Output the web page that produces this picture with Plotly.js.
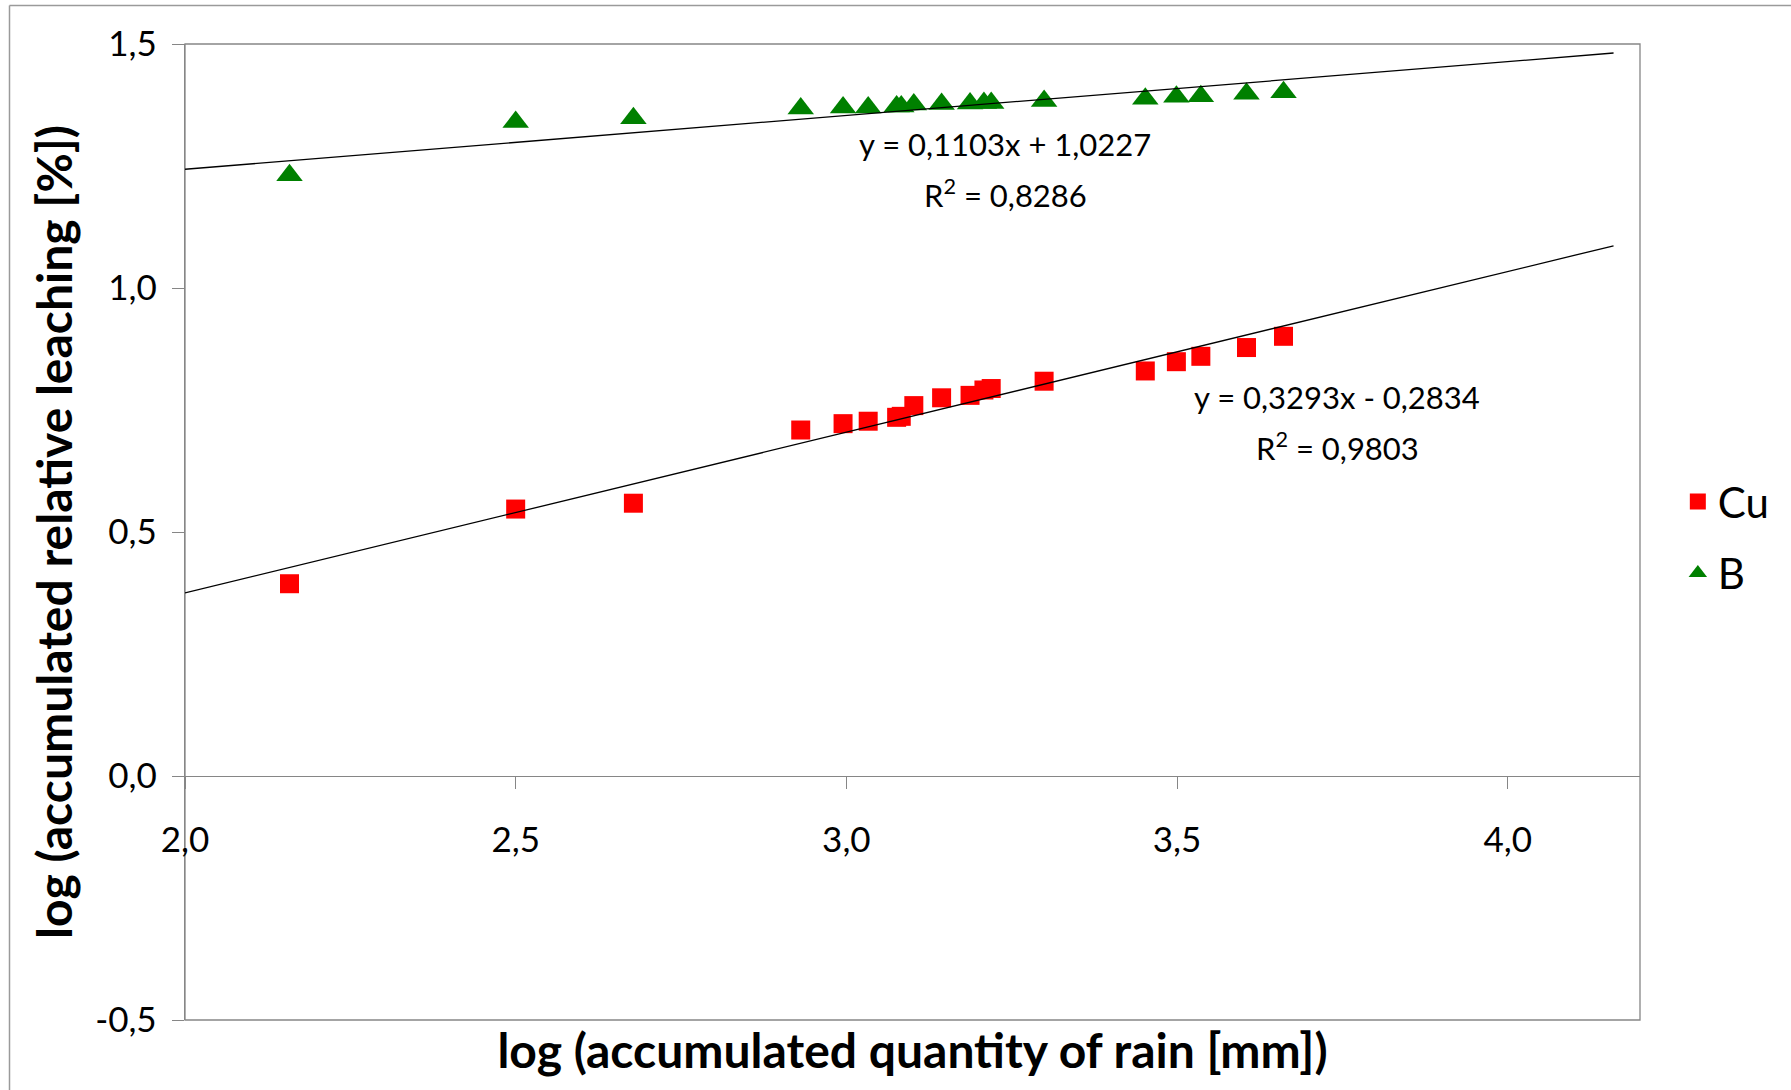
<!DOCTYPE html>
<html>
<head>
<meta charset="utf-8">
<script src="https://cdn.plot.ly/plotly-3.0.1.min.js"></script>
<style>
  html, body { margin: 0; padding: 0; background: #fff; }
  #chart { width: 1791px; height: 1090px; }
</style>
</head>
<body>
<div id="chart"></div>
<script>
// ---- data ----
const rainLog = [2.158, 2.500, 2.678, 2.931, 2.995, 3.033, 3.076, 3.083, 3.102, 3.144,
                 3.187, 3.208, 3.219, 3.299, 3.452, 3.499, 3.536, 3.605, 3.661];
const cuLeach = [0.394, 0.547, 0.559, 0.709, 0.722, 0.727, 0.735, 0.737, 0.759, 0.775,
                 0.780, 0.791, 0.794, 0.809, 0.830, 0.849, 0.860, 0.878, 0.901];
const bLeach  = [1.231, 1.340, 1.348, 1.368, 1.370, 1.370, 1.372, 1.372, 1.376, 1.377,
                 1.378, 1.379, 1.379, 1.383, 1.388, 1.392, 1.393, 1.398, 1.401];
const seriesNames = ["Cu", "B"];
// linear trend lines: [slope, intercept, R²]
const cuFit = [0.3293, -0.2834, 0.9803];
const bFit  = [0.1103, 1.0227, 0.8286];
const trendX = [2.0, 4.16];
const xTickVals = [2.0, 2.5, 3.0, 3.5, 4.0];
const xTickText = ["2,0", "2,5", "3,0", "3,5", "4,0"];
const yTickVals = [-0.5, 0.0, 0.5, 1.0, 1.5];
const yTickText = ["-0,5", "0,0", "0,5", "1,0", "1,5"];
const xTitle = "log (accumulated quantity of rain [mm])";
const yTitle = "log (accumulated relative leaching [%])";

// ---- helpers ----
const fmt = v => v.toFixed(4).replace('.', ',');
const eqText = f => "y = " + fmt(f[0]) + "x " + (f[1] < 0 ? "- " : "+ ") + fmt(Math.abs(f[1]));
const r2Text = f => "R<sup>2</sup> = " + fmt(f[2]);
const lineY = f => trendX.map(x => f[0] * x + f[1]);

const FONT = "Lato, 'Open Sans', sans-serif";
const GRAY = "#868686";
const M = {l: 185, r: 151, t: 44, b: 70};
const W = 1791, H = 1090;
const pw = W - M.l - M.r, ph = H - M.t - M.b;
const px2x = p => (p - M.l) / pw;
const py2y = p => (H - M.b - p) / ph;

const traces = [
  {x: rainLog, y: cuLeach, name: seriesNames[0], type: "scatter", mode: "markers",
   legendgroup: "cu",
   marker: {symbol: "square", size: 19, color: "#FF0000"}, xaxis: "x", yaxis: "y", hoverinfo: "x+y"},
  {x: rainLog, y: bLeach, name: seriesNames[1], type: "scatter", mode: "markers",
   legendgroup: "b",
   marker: {symbol: "triangle-up", size: 23, color: "#008000"}, xaxis: "x", yaxis: "y", hoverinfo: "x+y"},
  {x: trendX, y: lineY(cuFit), type: "scatter", mode: "lines", showlegend: false,
   line: {color: "#000", width: 1.3}, xaxis: "x2", yaxis: "y", hoverinfo: "skip"},
  {x: trendX, y: lineY(bFit), type: "scatter", mode: "lines", showlegend: false,
   line: {color: "#000", width: 1.3}, xaxis: "x2", yaxis: "y", hoverinfo: "skip"}
];

const yRange = [-0.5, 1.5];
const xRange = [2.0, 4.2];

const layout = {
  width: W, height: H,
  margin: M,
  paper_bgcolor: "#fff", plot_bgcolor: "#fff",
  font: {family: FONT, color: "#000"},
  showlegend: true,
  legend: {x: 1.026, xanchor: "left", y: 0.566, yanchor: "top",
           font: {family: FONT, size: 42, color: "#000"},
           tracegroupgap: 14, itemwidth: 30, bgcolor: "rgba(0,0,0,0)"},
  xaxis: {
    range: xRange, anchor: "free",
    position: (0 - yRange[0]) / (yRange[1] - yRange[0]),
    tickvals: xTickVals, ticktext: xTickText,
    ticks: "outside", ticklen: 12, tickcolor: GRAY, tickwidth: 1,
    showline: true, linecolor: GRAY, linewidth: 1.3,
    showgrid: false, zeroline: false,
    ticklabelstandoff: 21,
    tickfont: {family: FONT, size: 35, color: "#000"}
  },
  xaxis2: {
    range: xRange, overlaying: "x", anchor: "y", side: "bottom",
    showline: false, showticklabels: false, ticks: "", showgrid: false, zeroline: false,
    title: {text: xTitle, standoff: 14,
            font: {family: FONT, size: 48, color: "#000", weight: "bold"}}
  },
  yaxis: {
    range: yRange,
    tickvals: yTickVals, ticktext: yTickText,
    ticks: "outside", ticklen: 12, tickcolor: GRAY, tickwidth: 1,
    showline: true, linecolor: GRAY, linewidth: 1.3,
    showgrid: false, zeroline: false,
    ticklabelstandoff: 8,
    tickfont: {family: FONT, size: 35, color: "#000"},
    title: {text: yTitle, standoff: 7,
            font: {family: FONT, size: 48, color: "#000", weight: "bold"}}
  },
  annotations: [
    {x: 3.24, y: 1.295, xref: "x", yref: "y", text: eqText(bFit), showarrow: false,
     font: {family: FONT, size: 31, color: "#000"}},
    {x: 3.24, y: 1.193, xref: "x", yref: "y", text: r2Text(bFit), showarrow: false,
     font: {family: FONT, size: 31, color: "#000"}},
    {x: 3.742, y: 0.776, xref: "x", yref: "y", text: eqText(cuFit), showarrow: false,
     font: {family: FONT, size: 31, color: "#000"}},
    {x: 3.742, y: 0.676, xref: "x", yref: "y", text: r2Text(cuFit), showarrow: false,
     font: {family: FONT, size: 31, color: "#000"}}
  ],
  shapes: [
    // plot-area frame
    {type: "rect", xref: "paper", yref: "paper", x0: 0, x1: 1, y0: 0, y1: 1,
     line: {color: GRAY, width: 1.3}, layer: "below"},
    // outer chart-area border (top and left)
    {type: "line", xref: "paper", yref: "paper", x0: px2x(9.5), x1: px2x(W + 5),
     y0: py2y(5.5), y1: py2y(5.5), line: {color: "#9a9a9a", width: 1.5}},
    {type: "line", xref: "paper", yref: "paper", x0: px2x(9.5), x1: px2x(9.5),
     y0: py2y(5.5), y1: py2y(H + 5), line: {color: "#9a9a9a", width: 1.5}}
  ]
};

Plotly.newPlot("chart", traces, layout, {staticPlot: true, displayModeBar: false});
</script>
</body>
</html>
